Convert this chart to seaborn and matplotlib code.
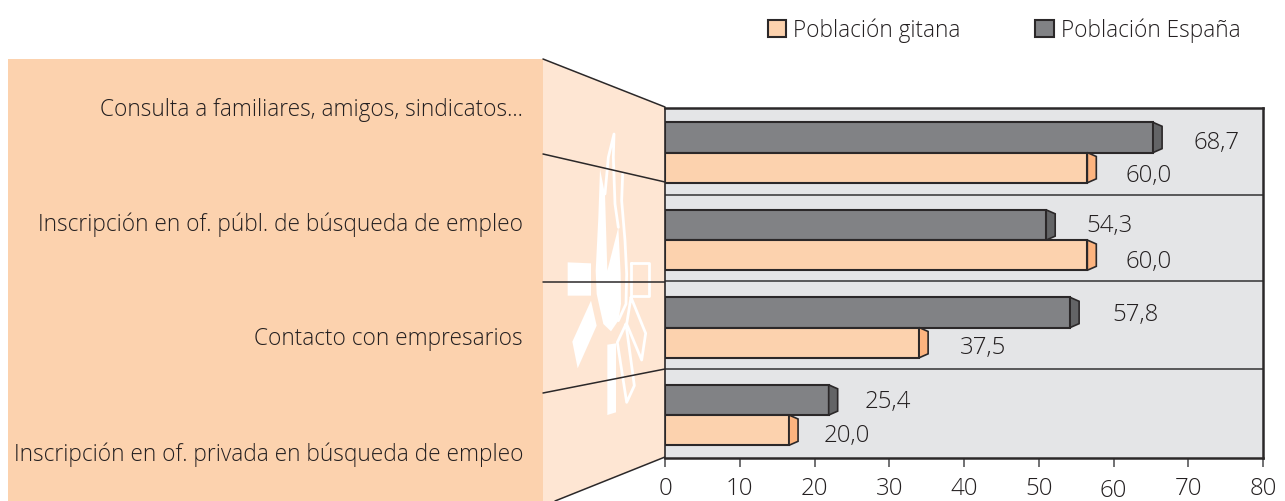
import pandas as pd
import seaborn as sns
import matplotlib.pyplot as plt
from matplotlib.patches import Patch, Polygon, Rectangle

categorias = ['Consulta a familiares, amigos, sindicatos...',
              'Inscripción en of. públ. de búsqueda de empleo',
              'Contacto con empresarios',
              'Inscripción en of. privada en búsqueda de empleo']
# longitud dibujada de las barras (no coincide con las etiquetas en el original)
poblacion_espana = [65.3, 51.0, 54.2, 21.9]
poblacion_gitana = [56.5, 56.5, 34.0, 16.6]
etiquetas_espana = ['68,7', '54,3', '57,8', '25,4']
etiquetas_gitana = ['60,0', '60,0', '37,5', '20,0']
x_ticks = [0, 10, 20, 30, 40, 50, 60, 70, 80]

W, H = 1285, 502
OSCURO = '#818285'
CLARO = '#FCD2AE'
TEXTO = '#231f20'
LINEA = '#2b2829'
FS = 16.3
FS_NUM = 17.3

sns.set_theme(style='white')
plt.rcParams['font.family'] = ['Open Sans', 'DejaVu Sans']
plt.rcParams['font.weight'] = 'light'

fig = plt.figure(figsize=(W / 100, H / 100), dpi=100)

# fondo en pixeles: paneles, emblema y lineas de perspectiva
bg = fig.add_axes([0, 0, 1, 1])
bg.set_xlim(0, W)
bg.set_ylim(H, 0)
bg.axis('off')
bg.add_patch(Rectangle((8, 59.5), 535, 443, color=CLARO, lw=0))
bg.add_patch(Polygon([(543, 60), (665, 108), (665, 458), (555, 502), (543, 502)],
                     color='#FEE6D3', lw=0))


def emblema(puntos):
    # las coordenadas salen del recorte del emblema
    return [(555 + a / 3, 125 + b / 3) for a, b in puntos]


for forma in [
    [(38, 415), (108, 418), (108, 515), (38, 515)],
    [(108, 530), (125, 605), (68, 733), (52, 653)],
    [(157, 662), (183, 658), (183, 865), (157, 873)],
    [(135, 135), (150, 210), (157, 440), (190, 310), (197, 450), (198, 540), (190, 590),
     (168, 622), (145, 600), (125, 510), (122, 440), (130, 280)],
]:
    bg.add_patch(Polygon(emblema(forma), color='white', lw=0))
for forma in [
    [(150, 210), (160, 100), (177, 30), (175, 100), (180, 240), (190, 310)],
    [(203, 150), (200, 230), (210, 350), (215, 450), (213, 540), (190, 590)],
    [(228, 418), (283, 418), (283, 515), (228, 515), (228, 418)],
    [(228, 520), (272, 628), (260, 708), (215, 600), (228, 520)],
    [(213, 600), (187, 655), (215, 835), (238, 785), (213, 600)],
]:
    xs, ys = zip(*emblema(forma))
    bg.plot(xs, ys, color='white', lw=2)

for (x0, y0), (x1, y1) in [((543, 60), (665, 108)), ((543, 155), (665, 183)),
                           ((543, 282.5), (665, 282.5)), ((543, 394), (665, 370)),
                           ((555, 502), (665, 458))]:
    bg.plot([x0, x1], [y0, y1], color=LINEA, lw=1.1)

for cat, y in zip(categorias, [109.5, 224.5, 339.5, 454.5]):
    bg.text(523, y, cat, ha='right', va='center', fontsize=FS, color=TEXTO)

# grafico principal
ax = fig.add_axes([665 / W, 1 - 458.5 / H, 598 / W, 350 / H])
df = pd.DataFrame({
    'categoria': categorias * 2,
    'valor': poblacion_espana + poblacion_gitana,
    'serie': ['Población España'] * 4 + ['Población gitana'] * 4,
})
sns.barplot(data=df, x='valor', y='categoria', hue='serie', ax=ax, orient='h',
            palette={'Población España': OSCURO, 'Población gitana': CLARO},
            width=0.69, gap=0, edgecolor=LINEA, linewidth=1.5, saturation=1, legend=False)
ax.set_facecolor('#E4E5E7')
ax.set_xlim(0, 80)
ax.set_ylim(3.485, -0.515)
ax.set_xlabel('')
ax.set_ylabel('')
ax.set_xticks(x_ticks)
ax.tick_params(axis='y', left=False, labelleft=False)
ax.tick_params(axis='x', bottom=True, length=6.5, width=1.2, color='#58585a',
               labelsize=FS_NUM, labelcolor=TEXTO, pad=7)
ax.xaxis.get_major_ticks()[6].set_pad(8.5)
for y in [0.485, 1.468, 2.474]:
    ax.axhline(y, color='#58585a', lw=1.4, zorder=1)
for lado, ancho in [('top', 1.8), ('right', 1.8), ('bottom', 1.8), ('left', 1.2)]:
    ax.spines[lado].set_visible(True)
    ax.spines[lado].set_color(LINEA)
    ax.spines[lado].set_linewidth(ancho)

# tapas 3D y etiquetas de valor
CAPA = 1.2
color_tapa = ['#636466', '#FDB47F']
etiquetas = [etiquetas_espana, etiquetas_gitana]
desplaz = [[(40, -5), (40, 0), (42, -2), (36, -1)], [(38, -7), (38, -6), (41, -4), (35, -5)]]
for s, cont in enumerate(ax.containers):
    for i, barra in enumerate(cont):
        x1 = barra.get_width()
        y0, h = barra.get_y(), barra.get_height()
        ax.add_patch(Polygon([(x1, y0), (x1 + CAPA, y0 + h * 0.13), (x1 + CAPA, y0 + h * 0.87),
                              (x1, y0 + h)], facecolor=color_tapa[s], edgecolor=LINEA,
                             lw=1.2, zorder=3))
        ax.annotate(etiquetas[s][i], (x1, y0 + h / 2), xytext=desplaz[s][i],
                    textcoords='offset pixels', ha='left', va='center',
                    fontsize=FS_NUM, color=TEXTO)

mano = [Patch(facecolor=CLARO, edgecolor=LINEA, lw=1.5, label='Población gitana'),
        Patch(facecolor=OSCURO, edgecolor=LINEA, lw=1.5, label='Población España')]
fig.legend(handles=mano, ncol=2, frameon=False, fontsize=16.3, labelcolor=TEXTO,
           loc='center right', bbox_to_anchor=(1261 / W, 1 - 31 / H),
           handlelength=0.8, handleheight=0.8, handletextpad=0.33, columnspacing=3.3)

fig.savefig('out.png', dpi=100)
